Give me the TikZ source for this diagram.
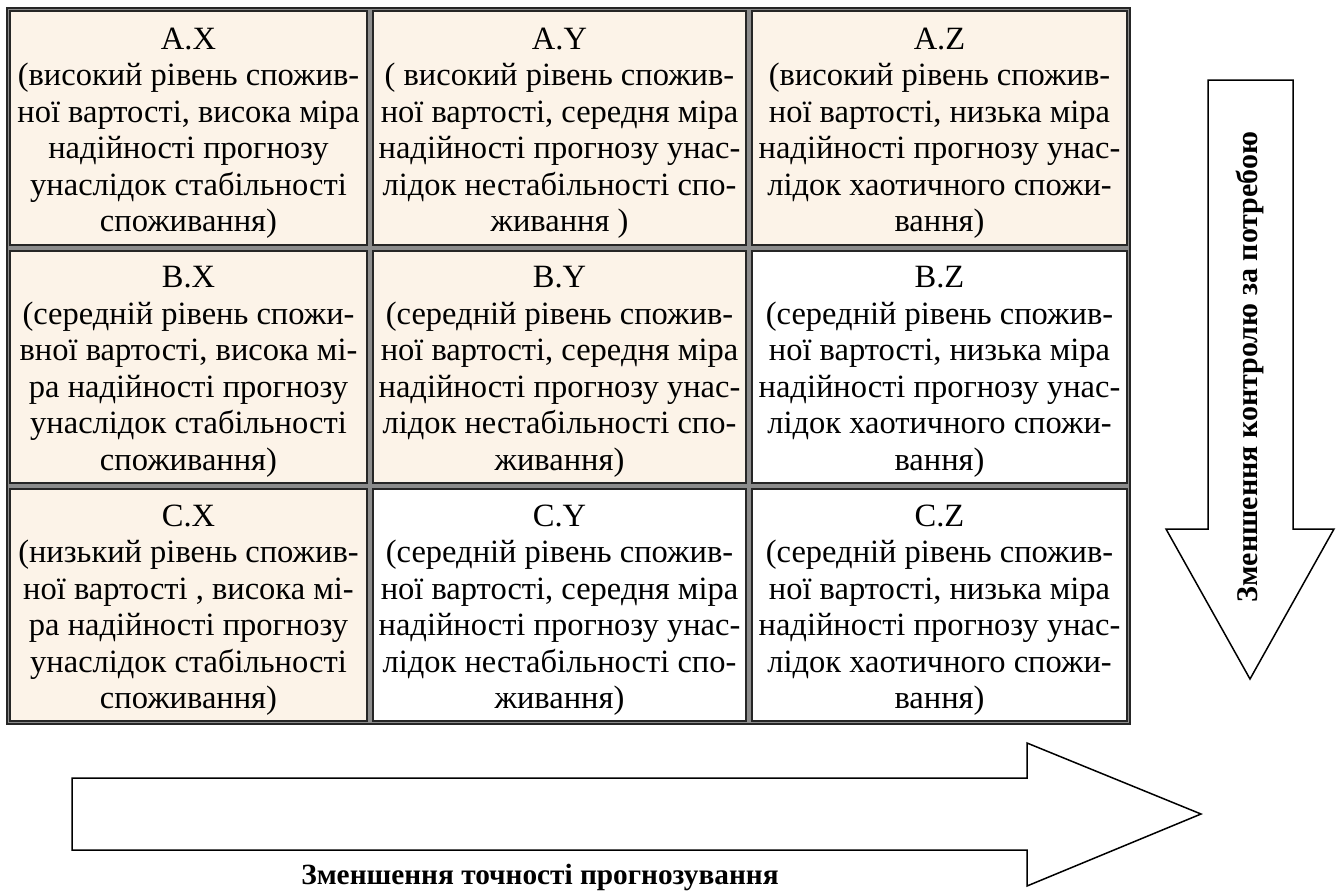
\documentclass[tikz,border=0pt]{standalone}
\usepackage{fontspec}
\setmainfont{Liberation Serif}
\definecolor{beige}{HTML}{FCF3E8}
\tikzset{
  cellbox/.style={align=center, inner sep=0pt, font=\fontsize{32.5}{36.5}\selectfont},
  cellline/.style={line width=1.2pt, black!85},
  gridline/.style={line width=4pt, black!45},
  bigarrow/.style={line width=1.5pt, black, fill=white, line join=miter},
  arrowlabel/.style={inner sep=0pt, font=\bfseries\fontsize{29.3}{32}\selectfont},
  sidelabel/.style={inner sep=0pt, rotate=90, font=\bfseries\fontsize{30}{32}\selectfont}
}
\begin{document}
\begin{tikzpicture}[x=1pt,y=-1pt]
  \useasboundingbox (0,0) rectangle (1342,892);

  % Sfondo delle celle
  \fill[beige] (7,8) rectangle (1130,248);
  \fill[beige] (7,248) rectangle (749,486);
  \fill[beige] (7,486) rectangle (370,724);

  % Griglia della tabella
  \draw[gridline] (8,9) rectangle (1129,723);
  \foreach \xx in {370,749}
    \draw[gridline] (\xx,8) -- (\xx,724);
  \foreach \yy in {248,486}
    \draw[gridline] (7,\yy) -- (1130,\yy);
  \draw[line width=2.5pt, black!85] (7,8) rectangle (1130,724);
  \foreach \xa/\xb in {7/370,370/749,749/1130}
    \foreach \ya/\yb in {8/248,248/486,486/724}
      \draw[cellline] (\xa+3,\ya+3) rectangle (\xb-3,\yb-3);

  % Testi delle celle
  \node[cellbox] (ax) at (188.5,133) {A.X\\(високий рівень спожив-\\ної вартості, висока міра\\надійності прогнозу\\унаслідок стабільності\\споживання)};
  \node[cellbox] (ay) at (559.5,133) {A.Y\\( високий рівень спожив-\\ної вартості, середня міра\\надійності прогнозу унас-\\лідок нестабільності спо-\\живання )};
  \node[cellbox] (az) at (939.5,133) {A.Z\\(високий рівень спожив-\\ної вартості, низька міра\\надійності прогнозу унас-\\лідок хаотичного спожи-\\вання)};
  \node[cellbox] (bx) at (188.5,372) {B.X\\(середній рівень спожи-\\вної вартості, висока мі-\\ра надійності прогнозу\\унаслідок стабільності\\споживання)};
  \node[cellbox] (by) at (559.5,372) {B.Y\\(середній рівень спожив-\\ної вартості, середня міра\\надійності прогнозу унас-\\лідок нестабільності спо-\\живання)};
  \node[cellbox] (bz) at (939.5,372) {B.Z\\(середній рівень спожив-\\ної вартості, низька міра\\надійності прогнозу унас-\\лідок хаотичного спожи-\\вання)};
  \node[cellbox] (cx) at (188.5,610) {C.X\\(низький рівень спожив-\\ної вартості , висока мі-\\ра надійності прогнозу\\унаслідок стабільності\\споживання)};
  \node[cellbox] (cy) at (559.5,610) {C.Y\\(середній рівень спожив-\\ної вартості, середня міра\\надійності прогнозу унас-\\лідок нестабільності спо-\\живання)};
  \node[cellbox] (cz) at (939.5,610) {C.Z\\(середній рівень спожив-\\ної вартості, низька міра\\надійності прогнозу унас-\\лідок хаотичного спожи-\\вання)};

  % Freccia verticale
  \draw[bigarrow] (1208,80) -- (1293,80) -- (1293,529) -- (1334,529)
    -- (1250,679) -- (1166,529) -- (1208,529) -- cycle;
  \node[sidelabel] (ctrl) at (1250,367) {Зменшення контролю за потребою};

  % Freccia orizzontale
  \draw[bigarrow] (72,778) -- (1027,778) -- (1027,743) -- (1201,814)
    -- (1027,886) -- (1027,850) -- (72,850) -- cycle;
  \node[arrowlabel] (prec) at (540,877) {Зменшення точності прогнозування};
\end{tikzpicture}
\end{document}
